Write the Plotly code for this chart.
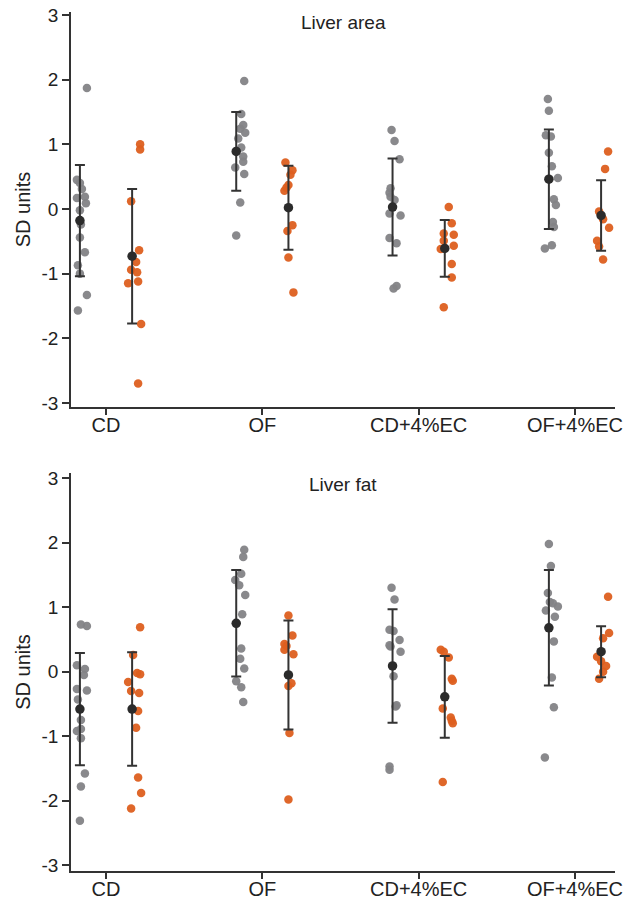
import plotly.graph_objects as go
from plotly.subplots import make_subplots

categories = ["CD", "OF", "CD+4%EC", "OF+4%EC"]
panel_titles = ["Liver area", "Liver fat"]
y_ticks = [-3, -2, -1, 0, 1, 2, 3]

# ---------- Liver area ----------
area_gray = [
    [1.87, 0.45, 0.40, 0.31, 0.17, 0.19, 0.09, -0.02, -0.24, -0.44, -0.67, -0.87, -1.00, -1.33, -1.57],
    [1.98, 1.47, 1.30, 1.24, 1.18, 1.09, 0.95, 0.81, 0.73, 0.64, 0.54, 0.10, -0.41],
    [1.22, 1.05, 0.77, 0.32, 0.25, 0.19, 0.14, -0.07, -0.10, -0.45, -0.53, -1.19, -1.23],
    [1.70, 1.52, 1.14, 1.12, 0.87, 0.66, 0.48, 0.15, 0.06, -0.20, -0.28, -0.56, -0.61],
]
area_orange = [
    [1.00, 0.92, 0.12, -0.64, -0.82, -0.94, -0.98, -1.12, -1.15, -1.78, -2.70],
    [0.72, 0.60, 0.53, 0.37, 0.33, 0.28, -0.25, -0.34, -0.75, -1.29],
    [0.03, -0.22, -0.38, -0.40, -0.49, -0.57, -0.62, -0.85, -1.06, -1.52],
    [0.89, 0.62, -0.04, -0.16, -0.29, -0.49, -0.58, -0.78],
]
area_gray_mean = [-0.18, 0.89, 0.03, 0.46]
area_gray_sd = [0.86, 0.61, 0.75, 0.77]
area_orange_mean = [-0.73, 0.02, -0.61, -0.10]
area_orange_sd = [1.04, 0.65, 0.44, 0.545]

# ---------- Liver fat ----------
fat_gray = [
    [0.73, 0.71, 0.10, 0.04, -0.05, -0.27, -0.29, -0.43, -0.75, -0.89, -0.92, -1.03, -1.58, -1.78, -2.31],
    [1.89, 1.78, 1.52, 1.42, 1.34, 1.19, 0.89, 0.36, 0.20, 0.05, -0.15, -0.24, -0.47],
    [1.30, 1.12, 0.65, 0.63, 0.49, 0.41, 0.39, 0.31, -0.07, -0.52, -0.54, -1.47, -1.52],
    [1.98, 1.64, 1.22, 1.08, 1.06, 1.01, 0.95, 0.85, 0.47, -0.09, -0.55, -1.33],
]
fat_orange = [
    [0.69, 0.26, -0.02, -0.04, -0.16, -0.30, -0.33, -0.61, -0.87, -1.64, -1.88, -2.12],
    [0.87, 0.56, 0.43, 0.40, 0.34, 0.27, -0.18, -0.22, -0.95, -1.98],
    [0.34, 0.31, 0.22, -0.11, -0.14, -0.57, -0.71, -0.76, -0.80, -1.71],
    [1.16, 0.60, 0.52, 0.23, 0.16, 0.09, 0.00, -0.11],
]
fat_gray_mean = [-0.58, 0.75, 0.09, 0.68]
fat_gray_sd = [0.87, 0.825, 0.88, 0.895]
fat_orange_mean = [-0.58, -0.05, -0.39, 0.31]
fat_orange_sd = [0.88, 0.845, 0.635, 0.395]

# horizontal jitter of each point (in pixels)
area_gray_jit = [
    [7, -3, 0, 2, -3, 5, 6, 0, 1, 0, 5, -2, 0, 7, -2],
    [8, 5, 7, 4, 9, 2, 5, 7, 7, -1, 8, 4, 0],
    [-1, 2, 7, -2, -3, -2, 2, -3, 8, -3, 4, 4, 1],
    [-1, 0, -3, 2, 0, 3, 9, 5, 7, 4, 5, 3, -4],
]
area_orange_jit = [
    [8, 8, -1, 7, 4, -1, 5, 6, -4, 9, 6],
    [-3, 4, 2, 0, -2, -4, 4, -1, 0, 5],
    [4, 7, -1, 9, -1, 9, -4, 7, 7, -1],
    [7, 4, -2, 2, 8, -4, -2, 2],
]
fat_gray_jit = [
    [1, 7, -3, 5, 4, -3, 7, -2, 1, 1, -3, 1, 5, 1, 0],
    [8, 7, 5, -1, 3, 9, 6, 5, 4, 8, 0, 5, 7],
    [-1, 2, -3, 1, 7, -3, -2, 8, 1, 4, 3, -3, -3],
    [0, 2, -1, 1, 4, 9, -3, 6, 5, 3, 5, -4],
]
fat_orange_jit = [
    [8, 1, 5, 8, -4, -1, 7, 6, 4, 6, 9, -1],
    [0, 4, -4, -2, -4, 5, 3, 0, 1, 0],
    [-4, -1, 4, 7, 8, -2, 6, 7, 8, -2],
    [7, 8, 2, -4, 0, 5, 2, -2],
]

GRAY = "#838386"
ORANGE = "#DD5F1F"
DARK = "#2b2b2b"
PX_PER_CAT = 156.3
OFFSET = 0.167

panels = [
    (area_gray, area_orange, area_gray_mean, area_gray_sd, area_orange_mean, area_orange_sd,
     area_gray_jit, area_orange_jit),
    (fat_gray, fat_orange, fat_gray_mean, fat_gray_sd, fat_orange_mean, fat_orange_sd,
     fat_gray_jit, fat_orange_jit),
]

fig = make_subplots(rows=2, cols=1, vertical_spacing=0.08)

for r, (g, o, gm, gs, om, osd, gj, oj) in enumerate(panels, start=1):
    for groups, jits, side, color in [(g, gj, -OFFSET, GRAY), (o, oj, OFFSET, ORANGE)]:
        xs, ys = [], []
        for ci, (vals, jit) in enumerate(zip(groups, jits)):
            for v, j in zip(vals, jit):
                xs.append(ci + side + j / PX_PER_CAT)
                ys.append(v)
        fig.add_trace(go.Scatter(x=xs, y=ys, mode="markers",
                                 marker=dict(color=color, size=8.5, opacity=0.95, line=dict(width=0)),
                                 showlegend=False, hoverinfo="y"), row=r, col=1)
    for means, sds, side in [(gm, gs, -OFFSET), (om, osd, OFFSET)]:
        fig.add_trace(go.Scatter(x=[ci + side for ci in range(len(categories))], y=means,
                                 mode="markers",
                                 marker=dict(color=DARK, size=9.5),
                                 error_y=dict(type="data", array=sds, symmetric=True,
                                              color="#333333", thickness=2, width=5),
                                 showlegend=False), row=r, col=1)

FAM = "Liberation Sans, Arial, Helvetica, sans-serif"
xtick_font = dict(family=FAM, size=20, color="#222222")
ytick_font = dict(family=FAM, size=19, color="#222222")
title_font = dict(family=FAM, size=20, color="#222222")
yranges = [[-3.062, 3.046], [-3.09, 3.08]]
for r in (1, 2):
    fig.update_xaxes(row=r, col=1, range=[-0.224, 3.256], tickmode="array",
                     tickvals=list(range(len(categories))), ticktext=categories,
                     showline=True, linecolor="#333333", linewidth=1.5, ticks="outside",
                     ticklen=6, tickwidth=1.5, tickcolor="#333333", showgrid=False,
                     zeroline=False, tickfont=xtick_font, automargin=False,
                     ticklabelstandoff=-7)
    fig.update_yaxes(row=r, col=1, range=yranges[r - 1], tickmode="array", tickvals=y_ticks,
                     ticktext=[str(t) for t in y_ticks],
                     showline=True, linecolor="#333333", linewidth=1.5, ticks="outside",
                     ticklen=7, tickwidth=1.5, tickcolor="#333333", showgrid=False,
                     zeroline=False, tickfont=ytick_font, automargin=False,
                     title=dict(text="SD units", font=title_font, standoff=6))

fig.update_layout(
    width=632, height=899,
    margin=dict(l=71, r=17, t=12, b=28),
    plot_bgcolor="white", paper_bgcolor="white",
    yaxis=dict(domain=[0.5402, 1.0]),
    yaxis2=dict(domain=[0.0, 0.4633]),
    annotations=[
        dict(text=panel_titles[0], x=0.5, y=0.988, xref="paper", yref="paper",
             showarrow=False, xanchor="center", yanchor="middle",
             font=dict(family=FAM, size=19, color="#222222")),
        dict(text=panel_titles[1], x=0.5, y=0.4505, xref="paper", yref="paper",
             showarrow=False, xanchor="center", yanchor="middle",
             font=dict(family=FAM, size=19, color="#222222")),
    ],
)

fig.write_html(
    "out.html",
    config={"displayModeBar": False},
    post_script="document.body.style.margin='0px';document.body.style.overflow='hidden';",
)
